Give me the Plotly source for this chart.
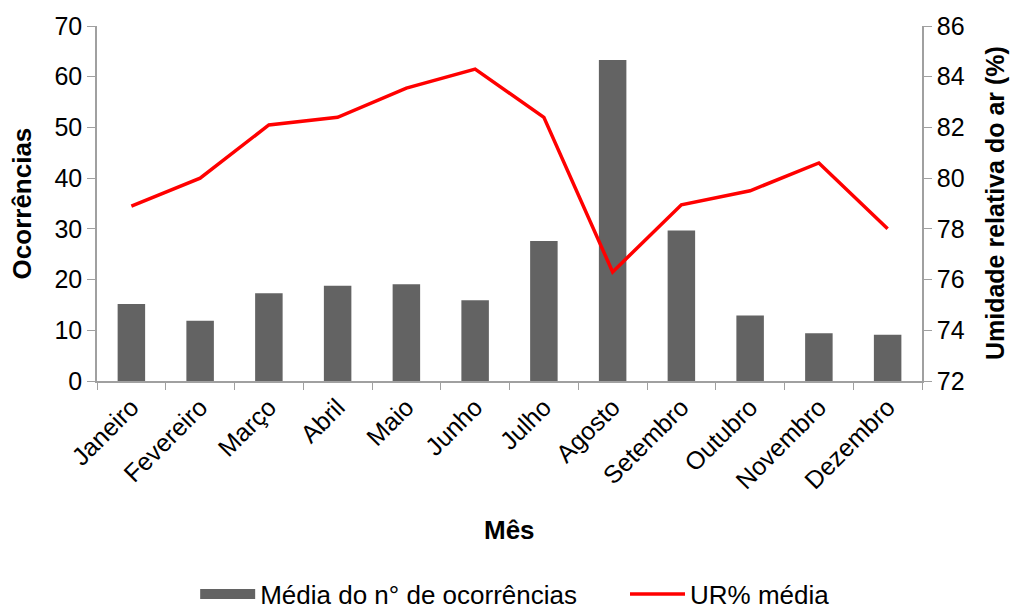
import plotly.graph_objects as go

meses = ["Janeiro", "Fevereiro", "Março", "Abril", "Maio", "Junho",
         "Julho", "Agosto", "Setembro", "Outubro", "Novembro", "Dezembro"]
ocorrencias = [15.2, 11.9, 17.3, 18.8, 19.1, 15.9, 27.6, 63.3, 29.7, 12.9, 9.4, 9.1]
ur_media = [78.9, 80.0, 82.1, 82.4, 83.55, 84.3, 82.4, 76.3, 78.95, 79.5, 80.6, 78.0]

FONT = "Liberation Sans, Arial, sans-serif"
AXIS_GRAY = "#a0a0a0"
BAR_GRAY = "#636363"

fig = go.Figure()

fig.add_trace(go.Bar(
    x=meses, y=ocorrencias,
    name="Média do n° de ocorrências",
    marker=dict(color=BAR_GRAY, line=dict(width=0)),
    yaxis="y",
    showlegend=False,
))

# legend proxy so the bar key is a wide block like the original
fig.add_trace(go.Scatter(
    x=[None], y=[None],
    name="Média do n° de ocorrências",
    mode="lines",
    line=dict(color=BAR_GRAY, width=16),
    yaxis="y",
    legend="legend",
))

fig.add_trace(go.Scatter(
    x=meses, y=ur_media,
    name="UR% média",
    mode="lines",
    line=dict(color="#ff0000", width=3.5),
    yaxis="y2",
    legend="legend2",
))

leg_style = dict(
    orientation="h",
    xanchor="left",
    y=-0.6, yanchor="middle",
    font=dict(size=26),
    itemwidth=55,
)

fig.update_layout(
    width=1012, height=613,
    margin=dict(l=97, r=90, t=26, b=232, autoexpand=False),
    paper_bgcolor="white",
    plot_bgcolor="white",
    font=dict(family=FONT, color="black", size=25),
    bargap=0.6,
    showlegend=True,
    legend=dict(x=0.119, **leg_style),
    legend2=dict(x=0.64, **leg_style),
    xaxis=dict(
        showline=True, linecolor=AXIS_GRAY, linewidth=1.5,
        ticks="outside", tickson="boundaries", ticklen=7, tickcolor=AXIS_GRAY,
        tickangle=-45, tickfont=dict(size=25),
        showgrid=False, zeroline=False, automargin=False,
    ),
    yaxis=dict(
        range=[0, 70], dtick=10,
        showline=True, linecolor=AXIS_GRAY, linewidth=1.5,
        ticks="outside", ticklen=8, tickcolor=AXIS_GRAY,
        tickfont=dict(size=25),
        showgrid=False, zeroline=False, automargin=False,
    ),
    yaxis2=dict(
        range=[72, 86], dtick=2,
        overlaying="y", side="right",
        showline=True, linecolor=AXIS_GRAY, linewidth=1.5,
        ticks="outside", ticklen=8, tickcolor=AXIS_GRAY,
        tickfont=dict(size=25),
        showgrid=False, zeroline=False, automargin=False,
    ),
    annotations=[
        dict(text="<b>Ocorrências</b>", xref="paper", yref="paper",
             x=-0.091, y=0.5, xanchor="center", yanchor="middle",
             textangle=-90, showarrow=False, font=dict(size=26)),
        dict(text="<b>Umidade relativa do ar (%)</b>", xref="paper", yref="paper",
             x=1.088, y=0.5, xanchor="center", yanchor="middle",
             textangle=-90, showarrow=False, font=dict(size=25)),
        dict(text="<b>Mês</b>", xref="paper", yref="paper",
             x=0.5, y=-0.42, xanchor="center", yanchor="middle",
             showarrow=False, font=dict(size=26)),
    ],
)

# drop the default page margin so the 1012x613 figure fills the window
fig.write_html("out.html", config={"displayModeBar": False},
               post_script="document.body.style.margin='0';")
